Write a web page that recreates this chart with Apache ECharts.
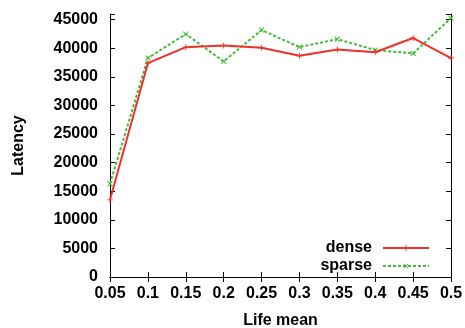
<!DOCTYPE html>
<html>
<head>
<meta charset="utf-8">
<script src="https://cdn.jsdelivr.net/npm/echarts@6/dist/echarts.min.js"></script>
<style>
  html, body { margin: 0; padding: 0; background: #fff; }
  #chart { width: 465px; height: 328px; }
</style>
</head>
<body>
<div id="chart"></div>
<script>
// Life mean values along the x axis
const lifeMean = ['0.05', '0.1', '0.15', '0.2', '0.25', '0.3', '0.35', '0.4', '0.45', '0.5'];
// Latency per life mean
const dense  = [13500, 37400, 40200, 40500, 40100, 38700, 39800, 39300, 41800, 38300];
const sparse = [16300, 38300, 42500, 37700, 43200, 40200, 41600, 39700, 39100, 45300];

const FONT = '"Liberation Sans", Arial, Helvetica, sans-serif';
const labelStyle = { color: '#000', fontFamily: FONT, fontWeight: 'bold', fontSize: 16 };
const plusPath = 'path://M-0.7,-5H0.7V-0.7H5V0.7H0.7V5H-0.7V0.7H-5V-0.7H-0.7Z';

const chart = echarts.init(document.getElementById('chart'), null, { renderer: 'canvas' });

const frameLine = { show: true, lineStyle: { color: '#000', width: 1 } };
const inTick = { show: true, inside: true, length: 5, lineStyle: { color: '#000', width: 1 } };

chart.setOption({
  animation: false,
  backgroundColor: '#fff',
  grid: { left: 110, right: 14, top: 14, bottom: 51, containLabel: false, outerBoundsMode: 'none' },
  legend: {
    orient: 'vertical',
    align: 'right',
    right: 35,
    top: 239,
    padding: 0,
    itemWidth: 46,
    itemHeight: 8,
    itemGap: 0,
    textStyle: Object.assign({}, labelStyle, { padding: [0, 6, 0, 0], lineHeight: 18 }),
    data: ['dense', 'sparse']
  },
  xAxis: [
    {
      type: 'category',
      data: lifeMean,
      boundaryGap: false,
      position: 'bottom',
      axisLine: frameLine,
      axisTick: Object.assign({ interval: 0 }, inTick),
      axisLabel: Object.assign({ margin: 9, interval: 0 }, labelStyle),
      splitLine: { show: false },
      name: 'Life mean',
      nameLocation: 'middle',
      nameGap: 36,
      nameTextStyle: labelStyle
    },
    {
      type: 'category',
      data: lifeMean,
      boundaryGap: false,
      position: 'top',
      axisLine: frameLine,
      axisTick: Object.assign({ interval: 0 }, inTick),
      axisLabel: { show: false },
      splitLine: { show: false }
    }
  ],
  yAxis: [
    {
      type: 'value',
      min: 0,
      max: 46000,
      interval: 5000,
      position: 'left',
      axisLine: frameLine,
      axisTick: inTick,
      axisLabel: Object.assign({
        margin: 12,
        formatter: v => (v % 5000 === 0 ? String(v) : '')
      }, labelStyle),
      splitLine: { show: false },
      name: 'Latency',
      nameLocation: 'middle',
      nameRotate: 90,
      nameGap: 83,
      nameTextStyle: labelStyle
    },
    {
      type: 'value',
      min: 0,
      max: 46000,
      interval: 5000,
      position: 'right',
      axisLine: frameLine,
      axisTick: inTick,
      axisLabel: { show: false },
      splitLine: { show: false }
    }
  ],
  series: [
    {
      name: 'dense',
      type: 'line',
      data: dense,
      symbol: plusPath,
      symbolSize: 6,
      showAllSymbol: true,
      itemStyle: { color: '#f0302a' },
      lineStyle: { color: '#f0302a', width: 2 },
      z: 3
    },
    {
      name: 'sparse',
      type: 'line',
      data: sparse,
      symbol: plusPath,
      symbolSize: 7,
      symbolRotate: 45,
      showAllSymbol: true,
      itemStyle: { color: '#44bb3a' },
      lineStyle: { color: '#44bb3a', width: 2, type: [3, 2] },
      z: 2
    }
  ]
});
</script>
</body>
</html>
